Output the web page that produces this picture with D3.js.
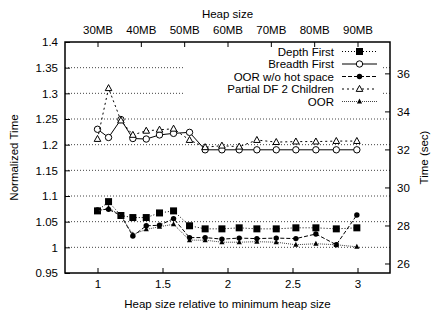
<!DOCTYPE html>
<html>
<head>
  <script src="https://d3js.org/d3.v7.min.js"></script>
  <style>
    body { margin: 0; background: #fff; }
    text { font-family: "Liberation Sans", Arial, sans-serif; font-size: 11.5px; fill: #000; }
  </style>
</head>
<body>
  <div id="chart"></div>
  <script>
    // heap size relative to minimum heap size (x positions of the points)
    const heapRel = [1.0, 1.085, 1.18, 1.272, 1.375, 1.477, 1.585, 1.708, 1.828, 1.957,
                     2.09, 2.226, 2.375, 2.526, 2.68, 2.837, 2.995];

    const depthFirst = [1.071, 1.089, 1.062, 1.058, 1.058, 1.067, 1.071, 1.042, 1.036, 1.036,
                        1.038, 1.036, 1.036, 1.038, 1.038, 1.036, 1.038];
    const breadthFirst = [1.230, 1.214, 1.249, 1.212, 1.211, 1.219, 1.222, 1.224, 1.190, 1.190,
                          1.190, 1.190, 1.190, 1.190, 1.190, 1.190, 1.190];
    const oorNoHot = [1.073, 1.074, 1.062, 1.022, 1.042, 1.043, 1.056, 1.019, 1.019, 1.016,
                      1.018, 1.017, 1.018, 1.017, 1.026, 1.005, 1.063];
    const partialDF2 = [1.211, 1.310, 1.247, 1.219, 1.227, 1.229, 1.231, 1.209, 1.195, 1.198,
                        1.196, 1.209, 1.205, 1.206, 1.206, 1.207, 1.207];
    const oor = [1.070, 1.077, 1.062, 1.025, 1.035, 1.040, 1.045, 1.014, 1.014, 1.010,
                 1.010, 1.011, 1.010, 1.005, 1.007, 1.005, 1.001];

    const seriesNames = ["Depth First", "Breadth First", "OOR w/o hot space", "Partial DF 2 Children", "OOR"];

    // tick labels
    const xTicks = [1, 1.5, 2, 2.5, 3];
    const yTicks = [0.95, 1, 1.05, 1.1, 1.15, 1.2, 1.25, 1.3, 1.35, 1.4];
    const mbTicks = [30, 40, 50, 60, 70, 80, 90];
    const secTicks = [26, 28, 30, 32, 34, 36];

    const W = 431, H = 314;
    const plot = {left: 65, right: 390, top: 42, bottom: 273};

    const svg = d3.select("#chart").append("svg")
      .attr("width", W).attr("height", H);

    const x = d3.scaleLinear().domain([0.75, 3.25]).range([plot.left, plot.right]);
    const xTop = d3.scaleLinear().domain([22.5, 97.5]).range([plot.left, plot.right]);
    const y = d3.scaleLinear().domain([0.95, 1.4]).range([plot.bottom, plot.top]);
    const ySec = d3.scaleLinear().domain([25.5, 37.65]).range([plot.bottom, plot.top]);

    // grid lines
    svg.append("g").selectAll("line")
      .data(yTicks.filter(d => d > 0.95 && d < 1.4))
      .enter().append("line")
      .attr("x1", plot.left).attr("x2", plot.right)
      .attr("y1", d => y(d)).attr("y2", d => y(d))
      .attr("stroke", "#444").attr("stroke-width", 1)
      .attr("stroke-dasharray", "1,2");

    // legend box blanks the grid behind it
    svg.append("rect")
      .attr("x", 185).attr("y", 46).attr("width", 198).attr("height", 62)
      .attr("fill", "#fff");

    // axes (inward ticks)
    const gx = svg.append("g").attr("transform", `translate(0,${plot.bottom})`)
      .call(d3.axisBottom(x).tickValues(xTicks).tickSize(-5).tickPadding(7)
        .tickFormat(d3.format("~g")));
    const gxt = svg.append("g").attr("transform", `translate(0,${plot.top})`)
      .call(d3.axisTop(xTop).tickValues(mbTicks).tickSize(-5).tickPadding(8)
        .tickFormat(d => d + "MB"));
    const gy = svg.append("g").attr("transform", `translate(${plot.left},0)`)
      .call(d3.axisLeft(y).tickValues(yTicks).tickSize(-5).tickPadding(7)
        .tickFormat(d3.format("~g")));
    const gyr = svg.append("g").attr("transform", `translate(${plot.right},0)`)
      .call(d3.axisRight(ySec).tickValues(secTicks).tickSize(-5).tickPadding(7));

    [gx, gxt, gy, gyr].forEach(g => {
      g.select(".domain").remove();
      g.attr("font-size", null).attr("font-family", null);
      g.selectAll("line").attr("stroke", "#000");
    });

    // frame
    svg.append("rect")
      .attr("x", plot.left).attr("y", plot.top)
      .attr("width", plot.right - plot.left).attr("height", plot.bottom - plot.top)
      .attr("fill", "none").attr("stroke", "#000").attr("stroke-width", 1.5);

    // axis titles
    svg.append("text").attr("x", (plot.left + plot.right) / 2).attr("y", 307.5)
      .attr("text-anchor", "middle").text("Heap size relative to minimum heap size");
    svg.append("text").attr("x", (plot.left + plot.right) / 2).attr("y", 18)
      .attr("text-anchor", "middle").text("Heap size");
    svg.append("text")
      .attr("transform", `translate(18,${(plot.top + plot.bottom) / 2}) rotate(-90)`)
      .attr("text-anchor", "middle").text("Normalized Time");
    svg.append("text")
      .attr("transform", `translate(428,${(plot.top + plot.bottom) / 2}) rotate(-90)`)
      .attr("text-anchor", "middle").text("Time (sec)");

    // marker drawing
    function marker(g, type, cx, cy) {
      if (type === "square") {
        g.append("rect").attr("x", cx - 3.5).attr("y", cy - 3.5)
          .attr("width", 7).attr("height", 7).attr("fill", "#000");
      } else if (type === "ocircle") {
        g.append("circle").attr("cx", cx).attr("cy", cy).attr("r", 3.2)
          .attr("fill", "#fff").attr("stroke", "#000").attr("stroke-width", 1);
      } else if (type === "fcircle") {
        g.append("circle").attr("cx", cx).attr("cy", cy).attr("r", 2.7)
          .attr("fill", "#000");
      } else if (type === "otri") {
        g.append("path").attr("d", `M${cx},${cy - 3.6}L${cx + 3.3},${cy + 2.4}L${cx - 3.3},${cy + 2.4}Z`)
          .attr("fill", "#fff").attr("stroke", "#000").attr("stroke-width", 1);
      } else if (type === "ftri") {
        g.append("path").attr("d", `M${cx},${cy - 3}L${cx + 2.6},${cy + 2}L${cx - 2.6},${cy + 2}Z`)
          .attr("fill", "#000");
      }
    }

    const series = [
      { name: seriesNames[0], values: depthFirst, dash: "1,2", marker: "square", color: "#000" },
      { name: seriesNames[1], values: breadthFirst, dash: null, marker: "ocircle", color: "#000" },
      { name: seriesNames[2], values: oorNoHot, dash: "4,2", marker: "fcircle", color: "#000" },
      { name: seriesNames[3], values: partialDF2, dash: "2,3", marker: "otri", color: "#000" },
      { name: seriesNames[4], values: oor, dash: "1,1", marker: "ftri", color: "#444" }
    ];

    const line = d3.line().x(d => x(d[0])).y(d => y(d[1]));

    series.forEach(s => {
      const pts = heapRel.map((h, i) => [h, s.values[i]]);
      const g = svg.append("g");
      g.append("path").datum(pts)
        .attr("d", line)
        .attr("fill", "none").attr("stroke", s.color).attr("stroke-width", 1)
        .attr("stroke-dasharray", s.dash);
      pts.forEach(p => marker(g, s.marker, x(p[0]), y(p[1])));
    });

    // legend
    series.forEach((s, i) => {
      const ly = 51.5 + i * 12.5;
      const g = svg.append("g");
      g.append("text").attr("x", 334).attr("y", ly).attr("dy", "0.35em")
        .attr("text-anchor", "end").text(s.name);
      g.append("line").attr("x1", 342).attr("x2", 377).attr("y1", ly).attr("y2", ly)
        .attr("stroke", s.color).attr("stroke-width", 1)
        .attr("stroke-dasharray", s.dash);
      marker(g, s.marker, 359.5, ly);
    });
  </script>
</body>
</html>
